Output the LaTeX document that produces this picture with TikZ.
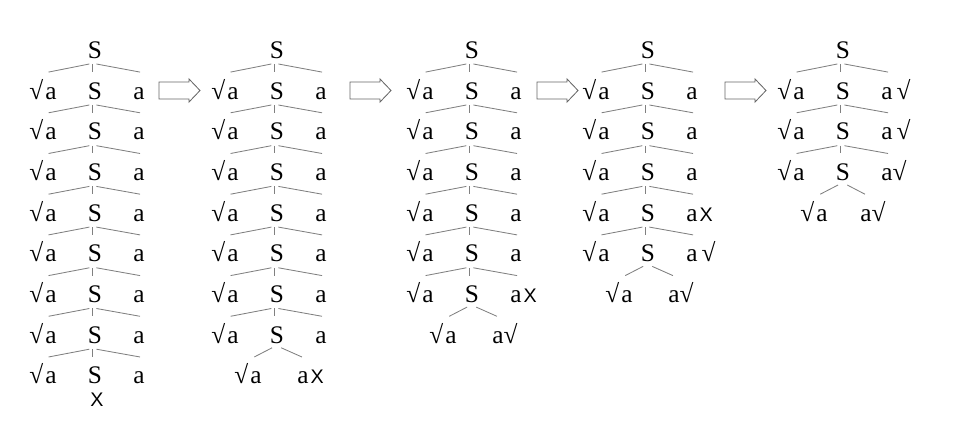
\documentclass[tikz,border=0pt]{standalone}
\usepackage{fontspec}
\setmainfont{Liberation Serif}
\newfontfamily\treefont{Liberation Serif}
\newfontfamily\xfont{Liberation Sans}
\usepackage{tikz}
\newcommand{\failx}{\kern1.5pt{\xfont\fontsize{14}{16}\selectfont X}}
\newcommand{\oka}{√\kern1.5pt a}
\tikzstyle{every node}=[inner xsep=0pt,inner ysep=2pt,text height=11.5pt,text depth=0pt,font=\treefont\fontsize{18}{20}\selectfont]
\tikzstyle{br}=[draw=black!50,line width=0.6pt]
\tikzstyle{nextarrow}=[draw=black!60,line width=0.6pt]
\tikzstyle{xnode}=[font=\xfont\fontsize{14}{16}\selectfont]

\begin{document}
\begin{tikzpicture}[x=0.025cm,y=-0.025cm]
\useasboundingbox (0,0) rectangle (960,428);
% arrows between the trees
\foreach \ax in {159,350,537,725}
  \draw[nextarrow,shift={(\ax,0)}] (0,82)--(30,82)--(30,79)--(41,90.5)--(30,102)--(30,99)--(0,99)--cycle;

% tree 1
\node (t1s0) at (95,50) {S};
\foreach \i in {1,...,8}{
  \pgfmathsetmacro{\y}{91+40.7*(\i-1)}
  \pgfmathtruncatemacro{\j}{\i-1}
  \node (t1s\i) at (95,\y) {S};
  \node[anchor=east] (t1l\i) at (57,\y) {\oka};
  \node[anchor=west] (t1r\i) at (133,\y) {a};
  \draw[br] ([xshift=-4pt,yshift=-2pt]t1s\j.south)--([xshift=-6pt,yshift=5.5pt]t1l\i.north east);
  \draw[br] ([xshift=-2pt,yshift=-2pt]t1s\j.south)--([xshift=-2pt,yshift=5.5pt]t1s\i.north);
  \draw[br] ([xshift=1pt,yshift=-2pt]t1s\j.south)--([xshift=5pt,yshift=5.5pt]t1r\i.north west);
}
\node[xnode] (t1x) at (97,398) {X};

% tree 2
\node (t2s0) at (277,50) {S};
\foreach \i in {1,...,7}{
  \pgfmathsetmacro{\y}{91+40.7*(\i-1)}
  \pgfmathtruncatemacro{\j}{\i-1}
  \node (t2s\i) at (277,\y) {S};
  \node[anchor=east] (t2l\i) at (239,\y) {\oka};
  \node[anchor=west] (t2r\i) at (315,\y) {a};
  \draw[br] ([xshift=-4pt,yshift=-2pt]t2s\j.south)--([xshift=-6pt,yshift=5.5pt]t2l\i.north east);
  \draw[br] ([xshift=-2pt,yshift=-2pt]t2s\j.south)--([xshift=-2pt,yshift=5.5pt]t2s\i.north);
  \draw[br] ([xshift=1pt,yshift=-2pt]t2s\j.south)--([xshift=5pt,yshift=5.5pt]t2r\i.north west);
}
\node[anchor=east] (t2ll) at (262,375.9) {\oka};
\node[anchor=west] (t2lr) at (297,375.9) {a\failx};
\draw[br] ([xshift=-3.5pt,yshift=-1pt]t2s7.south)--([xshift=-5.5pt,yshift=5.5pt]t2ll.north east);
\draw[br] ([xshift=3pt,yshift=-1pt]t2s7.south)--([xshift=3.5pt,yshift=5.5pt]t2lr.north west);

% tree 3
\node (t3s0) at (472,50) {S};
\foreach \i/\rt in {1/a,2/a,3/a,4/a,5/a,6/{a\failx}}{
  \pgfmathsetmacro{\y}{91+40.7*(\i-1)}
  \pgfmathtruncatemacro{\j}{\i-1}
  \node (t3s\i) at (472,\y) {S};
  \node[anchor=east] (t3l\i) at (434,\y) {\oka};
  \node[anchor=west] (t3r\i) at (510,\y) {\rt};
  \draw[br] ([xshift=-4pt,yshift=-2pt]t3s\j.south)--([xshift=-6pt,yshift=5.5pt]t3l\i.north east);
  \draw[br] ([xshift=-2pt,yshift=-2pt]t3s\j.south)--([xshift=-2pt,yshift=5.5pt]t3s\i.north);
  \draw[br] ([xshift=1pt,yshift=-2pt]t3s\j.south)--([xshift=5pt,yshift=5.5pt]t3r\i.north west);
}
\node[anchor=east] (t3ll) at (457,335.2) {\oka};
\node[anchor=west] (t3lr) at (492,335.2) {a√};
\draw[br] ([xshift=-3.5pt,yshift=-1pt]t3s6.south)--([xshift=-5.5pt,yshift=5.5pt]t3ll.north east);
\draw[br] ([xshift=3pt,yshift=-1pt]t3s6.south)--([xshift=3.5pt,yshift=5.5pt]t3lr.north west);

% tree 4
\node (t4s0) at (648,50) {S};
\foreach \i/\rt in {1/a,2/a,3/a,4/{a\failx},5/{a\,√}}{
  \pgfmathsetmacro{\y}{91+40.7*(\i-1)}
  \pgfmathtruncatemacro{\j}{\i-1}
  \node (t4s\i) at (648,\y) {S};
  \node[anchor=east] (t4l\i) at (610,\y) {\oka};
  \node[anchor=west] (t4r\i) at (686,\y) {\rt};
  \draw[br] ([xshift=-4pt,yshift=-2pt]t4s\j.south)--([xshift=-6pt,yshift=5.5pt]t4l\i.north east);
  \draw[br] ([xshift=-2pt,yshift=-2pt]t4s\j.south)--([xshift=-2pt,yshift=5.5pt]t4s\i.north);
  \draw[br] ([xshift=1pt,yshift=-2pt]t4s\j.south)--([xshift=5pt,yshift=5.5pt]t4r\i.north west);
}
\node[anchor=east] (t4ll) at (633,294.5) {\oka};
\node[anchor=west] (t4lr) at (668,294.5) {a√};
\draw[br] ([xshift=-3.5pt,yshift=-1pt]t4s5.south)--([xshift=-5.5pt,yshift=5.5pt]t4ll.north east);
\draw[br] ([xshift=3pt,yshift=-1pt]t4s5.south)--([xshift=3.5pt,yshift=5.5pt]t4lr.north west);

% tree 5
\node (t5s0) at (843,50) {S};
\foreach \i/\rt in {1/{a\,√},2/{a\,√},3/{a√}}{
  \pgfmathsetmacro{\y}{91+40.7*(\i-1)}
  \pgfmathtruncatemacro{\j}{\i-1}
  \node (t5s\i) at (843,\y) {S};
  \node[anchor=east] (t5l\i) at (805,\y) {\oka};
  \node[anchor=west] (t5r\i) at (881,\y) {\rt};
  \draw[br] ([xshift=-4pt,yshift=-2pt]t5s\j.south)--([xshift=-6pt,yshift=5.5pt]t5l\i.north east);
  \draw[br] ([xshift=-2pt,yshift=-2pt]t5s\j.south)--([xshift=-2pt,yshift=5.5pt]t5s\i.north);
  \draw[br] ([xshift=1pt,yshift=-2pt]t5s\j.south)--([xshift=5pt,yshift=5.5pt]t5r\i.north west);
}
\node[anchor=east] (t5ll) at (828,213.1) {\oka};
\node[anchor=west] (t5lr) at (860,213.1) {a√};
\draw[br] ([xshift=-3.5pt,yshift=-1pt]t5s3.south)--([xshift=-5.5pt,yshift=5.5pt]t5ll.north east);
\draw[br] ([xshift=3pt,yshift=-1pt]t5s3.south)--([xshift=3.5pt,yshift=5.5pt]t5lr.north west);
\end{tikzpicture}
\end{document}
